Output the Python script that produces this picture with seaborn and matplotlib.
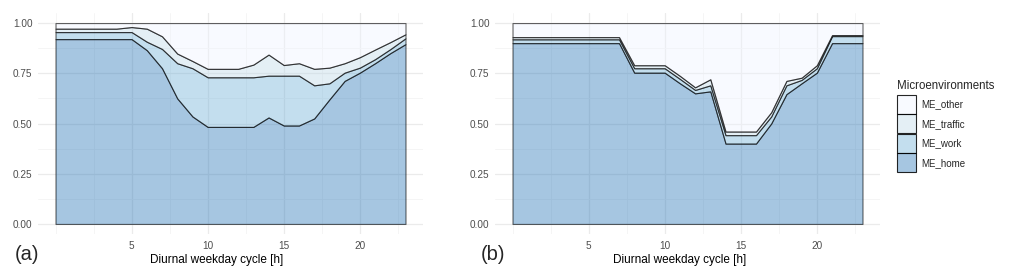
import numpy as np
import matplotlib
matplotlib.use("Agg")
import matplotlib.pyplot as plt
import seaborn as sns
from matplotlib.patches import Patch
from matplotlib.colors import to_rgba

# ---------------- data ----------------
hours = list(range(24))
categories = ["ME_home", "ME_work", "ME_traffic", "ME_other"]

# panel (a)
home_a = [0.92, 0.92, 0.92, 0.92, 0.92, 0.92, 0.865, 0.775, 0.625, 0.535, 0.483, 0.483,
          0.483, 0.483, 0.53, 0.49, 0.49, 0.525, 0.62, 0.712, 0.753, 0.80, 0.85, 0.895]
work_a = [0.035, 0.035, 0.035, 0.035, 0.035, 0.035, 0.042, 0.096, 0.175, 0.24, 0.247, 0.247,
          0.247, 0.247, 0.208, 0.248, 0.248, 0.165, 0.08, 0.041, 0.025, 0.02, 0.02, 0.029]
traffic_a = [0.017, 0.017, 0.017, 0.017, 0.017, 0.025, 0.065, 0.063, 0.048, 0.036, 0.042, 0.042,
             0.042, 0.063, 0.105, 0.053, 0.062, 0.082, 0.078, 0.047, 0.052, 0.048, 0.035, 0.02]
other_a = [0.028, 0.028, 0.028, 0.028, 0.028, 0.02, 0.028, 0.066, 0.152, 0.189, 0.228, 0.228,
           0.228, 0.207, 0.157, 0.209, 0.20, 0.228, 0.222, 0.20, 0.17, 0.132, 0.095, 0.056]

# panel (b)
home_b = [0.90, 0.90, 0.90, 0.90, 0.90, 0.90, 0.90, 0.90, 0.753, 0.753, 0.753, 0.70,
          0.65, 0.66, 0.40, 0.40, 0.40, 0.50, 0.646, 0.70, 0.753, 0.90, 0.90, 0.90]
work_b = [0.019, 0.019, 0.019, 0.019, 0.019, 0.019, 0.019, 0.019, 0.022, 0.022, 0.022, 0.022,
          0.017, 0.03, 0.042, 0.042, 0.042, 0.035, 0.044, 0.017, 0.022, 0.035, 0.035, 0.035]
traffic_b = [0.011, 0.011, 0.011, 0.011, 0.011, 0.011, 0.011, 0.011, 0.015, 0.015, 0.015, 0.015,
             0.013, 0.03, 0.018, 0.018, 0.018, 0.021, 0.022, 0.011, 0.015, 0.005, 0.005, 0.005]
other_b = [0.07, 0.07, 0.07, 0.07, 0.07, 0.07, 0.07, 0.07, 0.21, 0.21, 0.21, 0.263,
           0.32, 0.28, 0.54, 0.54, 0.54, 0.444, 0.288, 0.272, 0.21, 0.06, 0.06, 0.06]

x_ticks = [5, 10, 15, 20]
y_ticks = [0.00, 0.25, 0.50, 0.75, 1.00]
y_ticklabels = ["0.00", "0.25", "0.50", "0.75", "1.00"]
x_title = "Diurnal weekday cycle [h]"
legend_title = "Microenvironments"
panel_tags = ["(a)", "(b)"]

# ---------------- style ----------------
sns.set_theme(style="whitegrid")
plt.rcParams["font.family"] = ["Liberation Sans", "DejaVu Sans"]

base = ["#2171B5", "#6BAED6", "#BDD7E7", "#EFF3FF"]  # home, work, traffic, other
fill_cols = [to_rgba(c, 0.4) for c in base]
edge_col = (0, 0, 0, 0.6)

W, H = 1012, 279
fig = plt.figure(figsize=(W / 100, H / 100), dpi=100)

def px_axes(l, r, t, b):
    return fig.add_axes([l / W, 1 - b / H, (r - l) / W, (b - t) / H])

ax_a = px_axes(38, 423, 13, 234)
ax_b = px_axes(495, 880, 13, 234)

panels = [
    (ax_a, [home_a, work_a, traffic_a, other_a], 0.464),
    (ax_b, [home_b, work_b, traffic_b, other_b], 0.48),
]

for i, (ax, series, xlab_x) in enumerate(panels):
    ax.set_facecolor("white")
    ax.set_axisbelow(True)
    ax.stackplot(hours, *series, colors=fill_cols, edgecolor=edge_col,
                 linewidth=0.8, labels=categories)
    ax.set_xlim(-1.15, 24.15)
    ax.set_ylim(-0.05, 1.05)
    ax.set_xticks(x_ticks)
    ax.set_xticklabels([str(t) for t in x_ticks])
    ax.set_xticks([0, 2.5, 7.5, 12.5, 17.5, 22.5], minor=True)
    ax.set_yticks(y_ticks)
    ax.set_yticklabels(y_ticklabels)
    ax.set_yticks([0.125, 0.375, 0.625, 0.875], minor=True)
    ax.grid(which="major", color="#EBEBEB", linewidth=0.9)
    ax.grid(which="minor", color="#F4F4F4", linewidth=0.6)
    for s in ax.spines.values():
        s.set_visible(False)
    ax.tick_params(axis="both", which="both", length=0, labelsize=7.2,
                   labelcolor="#4D4D4D", pad=4)
    ax.tick_params(axis="x", pad=5)
    ax.set_xlabel(x_title, fontsize=8.5, color="black")
    ax.xaxis.set_label_coords(xlab_x, -0.118)
    ax.xaxis.label.set_va("center")

fig.text(15 / W, 1 - 255 / H, panel_tags[0], fontsize=14.5, va="center", ha="left")
fig.text(481 / W, 1 - 255 / H, panel_tags[1], fontsize=14.5, va="center", ha="left")

handles = [Patch(facecolor=fill_cols[j], edgecolor=(0, 0, 0, 0.85), linewidth=0.8)
           for j in [3, 2, 1, 0]]
labels = [categories[j] for j in [3, 2, 1, 0]]
leg = fig.legend(handles, labels, loc="upper left",
                 bbox_to_anchor=(897 / W, 1 - 80 / H), frameon=False,
                 title=legend_title, fontsize=7.0, title_fontsize=8.3,
                 handlelength=1.95, handleheight=2.63, labelspacing=0.05,
                 handletextpad=0.59, borderpad=0.0, borderaxespad=0.0,
                 alignment="left")
leg._legend_box.sep = 2

fig.savefig("out.png", dpi=100)
